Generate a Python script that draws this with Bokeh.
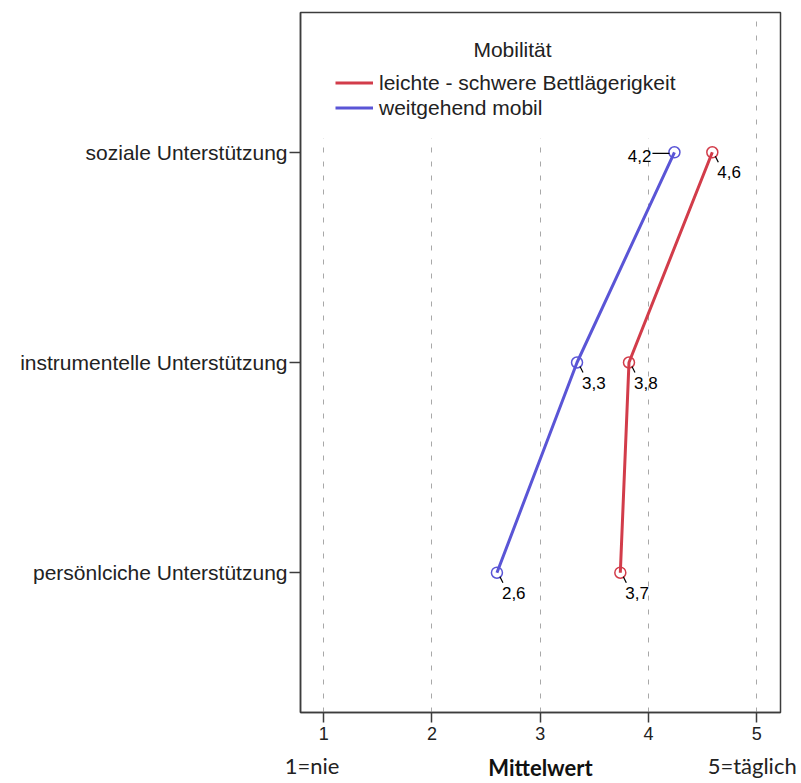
from bokeh.plotting import figure
from bokeh.models import (Range1d, FixedTicker, Legend, LegendItem, Label, LinearAxis, BoxAnnotation)
from bokeh.core.properties import value
from bokeh.embed import file_html
from bokeh.resources import INLINE

# ---- data ----
categories = ["soziale Unterstützung", "instrumentelle Unterstützung", "persönlciche Unterstützung"]
mobil_values = [4.24, 3.34, 2.60]          # weitgehend mobil (blue)
bett_values = [4.59, 3.82, 3.74]           # leichte - schwere Bettlägerigkeit (red)
series_names = ["leichte - schwere Bettlägerigkeit", "weitgehend mobil"]
legend_title = "Mobilität"
x_ticks = [1, 2, 3, 4, 5]
x_axis_title = "Mittelwert"
scale_labels = ["1=nie", "5=täglich"]
scale_label_pos = [0.891, 4.958]

BLUE = "#5a55d6"
RED = "#d23c4a"
FONT = "Liberation Sans"

n = len(categories)
ypos = [n - i for i in range(n)]
label_map = {n - i: c for i, c in enumerate(categories)}

def fmt(v):
    return f"{v:.1f}".replace(".", ",")

p = figure(width=801, height=783, output_backend="svg", toolbar_location=None,
           x_range=Range1d(0.785, 5.22), y_range=Range1d(0.335, 3.665),
           min_border_left=300, min_border_right=21, min_border_top=12, min_border_bottom=71)

p.outline_line_color = "#3c3c3c"
p.outline_line_width = 1.5
p.background_fill_color = "white"

# grid
p.ygrid.visible = False
p.xgrid.ticker = FixedTicker(ticks=x_ticks)
p.xgrid.grid_line_color = "#a8a8a8"
p.xgrid.grid_line_dash = "5 9"
p.xgrid.grid_line_width = 1

# white panel behind the legend (hides grid lines there)
p.add_layout(BoxAnnotation(left=0.923, right=4.48, top=3.627, bottom=3.066,
                           fill_color="white", fill_alpha=1, line_color=None,
                           level="underlay"))

# x axis
xa = p.xaxis[0]
xa.ticker = FixedTicker(ticks=x_ticks)
xa.minor_tick_line_color = None
xa.major_tick_in = 0
xa.major_tick_out = 10
xa.major_tick_line_color = "#3c3c3c"
xa.major_tick_line_width = 1.5
xa.axis_line_color = "#3c3c3c"
xa.axis_line_width = 1.5
xa.major_label_text_font = FONT
xa.major_label_text_font_size = "18px"
xa.major_label_text_color = "#222222"
xa.major_label_standoff = 4

# second axis below: scale anchors + axis title on one line
xa2 = LinearAxis(ticker=FixedTicker(ticks=scale_label_pos),
                 major_label_overrides={pos: txt for pos, txt in zip(scale_label_pos, scale_labels)})
xa2.axis_line_color = None
xa2.major_tick_line_color = None
xa2.minor_tick_line_color = None
xa2.major_tick_in = 0
xa2.major_tick_out = 0
xa2.major_label_standoff = 9
xa2.major_label_text_font = "Lato"
xa2.major_label_text_font_size = "22px"
xa2.major_label_text_color = "#222222"
xa2.axis_label = x_axis_title
xa2.axis_label_text_font = "Lato"
xa2.axis_label_text_font_size = "22px"
xa2.axis_label_text_font_style = "bold"
xa2.axis_label_text_color = "#111111"
xa2.axis_label_standoff = -28
p.add_layout(xa2, "below")

# y axis
ya = p.yaxis[0]
ya.ticker = FixedTicker(ticks=ypos)
ya.major_label_overrides = label_map
ya.minor_tick_line_color = None
ya.major_tick_in = 0
ya.major_tick_out = 11
ya.major_tick_line_color = "#3c3c3c"
ya.major_tick_line_width = 1.5
ya.axis_line_color = "#3c3c3c"
ya.axis_line_width = 1.5
ya.major_label_text_font = FONT
ya.major_label_text_font_size = "21px"
ya.major_label_text_color = "#222222"
ya.major_label_standoff = 2

# lines + markers
r_red = p.line(bett_values, ypos, line_color=RED, line_width=3)
r_blue = p.line(mobil_values, ypos, line_color=BLUE, line_width=3)
p.scatter(bett_values, ypos, size=11, fill_alpha=0, line_color=RED, line_width=1.5)
p.scatter(mobil_values, ypos, size=11, fill_alpha=0, line_color=BLUE, line_width=1.5)

# value labels with leader lines
PXU = 108.2   # px per x unit
PYU = 210.5   # px per y unit
for vals in (bett_values, mobil_values):
    for i, (v, y) in enumerate(zip(vals, ypos)):
        left = (vals is mobil_values and i == 0)
        if left:
            p.segment(x0=[v - 5 / PXU], y0=[y - 1 / PYU], x1=[v - 22 / PXU], y1=[y - 1 / PYU],
                      line_color="black", line_width=1.2)
            p.text(x=[v], y=[y], text=[fmt(v)], x_offset=-23, y_offset=4,
                   text_align="right", text_baseline="middle",
                   text_font=value(FONT), text_font_size="17px", text_color="black")
        else:
            p.segment(x0=[v + 3 / PXU], y0=[y - 4 / PYU], x1=[v + 6 / PXU], y1=[y - 10 / PYU],
                      line_color="black", line_width=1.2)
            p.text(x=[v], y=[y], text=[fmt(v)], x_offset=5, y_offset=20,
                   text_align="left", text_baseline="middle",
                   text_font=value(FONT), text_font_size="17px", text_color="black")

# legend
legend = Legend(items=[LegendItem(label=series_names[0], renderers=[r_red]),
                       LegendItem(label=series_names[1], renderers=[r_blue])],
                location=(15, 572),
                padding=20, spacing=0, glyph_width=38, glyph_height=25, label_height=25,
                label_standoff=6, label_text_font=FONT, label_text_font_size="21px",
                label_text_color="#222222", background_fill_alpha=0, border_line_alpha=0)
p.add_layout(legend)

p.add_layout(Label(x=2.744, y=3.49, text=legend_title, text_align="center",
                   text_baseline="middle", text_font=FONT, text_font_size="21px",
                   text_color="#222222"))

open("out.html", "w").write(file_html(p, INLINE))
